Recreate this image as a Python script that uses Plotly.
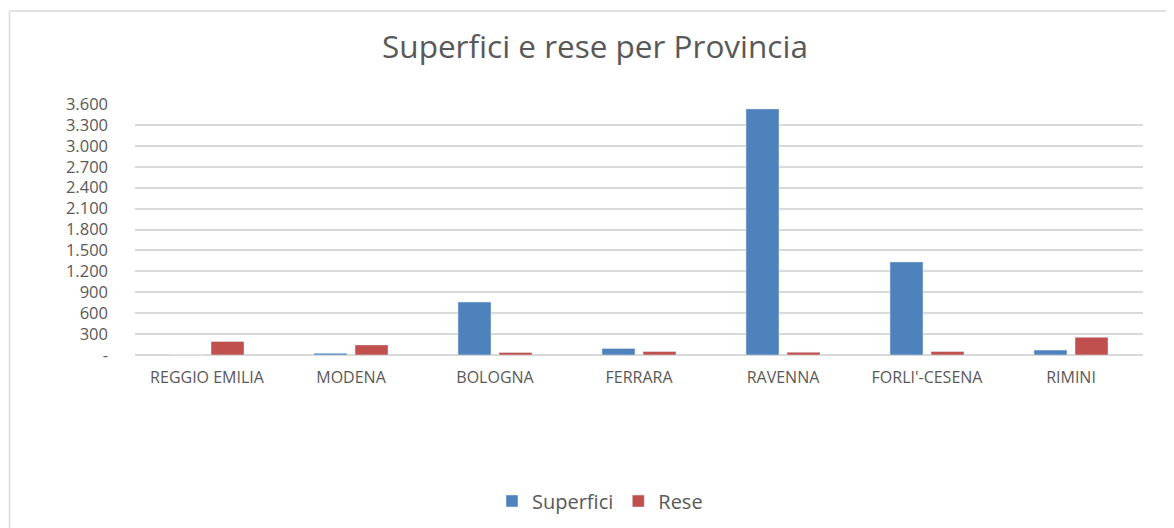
import plotly.graph_objects as go

province = ["REGGIO EMILIA", "MODENA", "BOLOGNA", "FERRARA", "RAVENNA", "FORLI'-CESENA", "RIMINI"]
superfici = [0, 25, 760, 95, 3530, 1335, 70]
rese = [195, 145, 35, 50, 40, 50, 255]
tick_vals = [0, 300, 600, 900, 1200, 1500, 1800, 2100, 2400, 2700, 3000, 3300, 3600]
tick_text = ["-", "300", "600", "900", "1.200", "1.500", "1.800", "2.100", "2.400", "2.700", "3.000", "3.300", "3.600"]

FONT = "'Open Sans', sans-serif"
GREY = "#595959"

# page body has an 8px default margin; work in page pixels and convert
OFF = 8
W, H = 1174 - OFF, 528 - OFF
PL, PR, PT, PB = 135, 1143, 104, 355  # plot area in page pixels
L, T = PL - OFF, PT - OFF
R = W - (PR - OFF)
B = H - (PB - OFF)
pw = PR - PL
ph = PB - PT


def px_x(x):
    return (x - PL) / pw


def px_y(y):
    return (PB - y) / ph


def cx(x):
    return (x - OFF) / W


def cy(y):
    return (H - (y - OFF)) / H


fig = go.Figure()
fig.add_trace(go.Bar(name="Superfici", x=province, y=superfici, marker_color="#4f81bd"))
fig.add_trace(go.Bar(name="Rese", x=province, y=rese, marker_color="#c0504d"))

fig.update_layout(
    width=W, height=H,
    margin=dict(l=L, r=R, t=T, b=B),
    paper_bgcolor="white", plot_bgcolor="white",
    barmode="group", bargap=0.43, bargroupgap=0.195,
    title=dict(text="Superfici e rese per Provincia", x=cx(595), xref="container", xanchor="center",
               y=cy(47), yref="container", yanchor="middle",
               font=dict(family=FONT, size=31.5, color=GREY)),
    font=dict(family=FONT, color=GREY),
    showlegend=True,
    legend=dict(orientation="h", x=cx(600), xanchor="center", xref="container",
                y=cy(501), yref="container", yanchor="middle",
                font=dict(family=FONT, size=20, color=GREY), itemwidth=30,
                traceorder="normal"),
    xaxis=dict(showgrid=False, showline=False, ticks="", tickfont=dict(size=16, color=GREY),
               ticklabelstandoff=11),
    yaxis=dict(range=[0, 3600], tickvals=tick_vals, ticktext=tick_text,
               showgrid=True, gridcolor="#d9d9d9", gridwidth=1.5,
               zeroline=True, zerolinecolor="#d9d9d9", zerolinewidth=1.5,
               showline=False, ticks="", tickfont=dict(size=16.5, color=GREY), ticklabelstandoff=26),
    shapes=[
        dict(type="line", xref="paper", yref="paper", x0=px_x(9.5), x1=px_x(1200), y0=px_y(11), y1=px_y(11),
             line=dict(color="#d9d9d9", width=1.5)),
        dict(type="line", xref="paper", yref="paper", x0=px_x(9.5), x1=px_x(9.5), y0=px_y(11), y1=px_y(540),
             line=dict(color="#d9d9d9", width=1.5)),
    ],
)

fig.write_html("out.html")
